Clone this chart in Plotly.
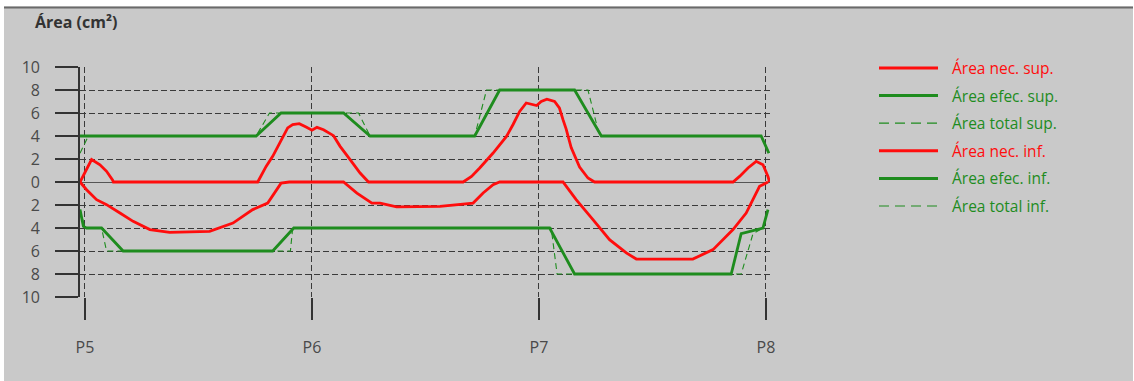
import plotly.graph_objects as go

# ---------------- data (x: P5=0, P6=1, P7=2, P8=3) ----------------
point_labels = ["P5", "P6", "P7", "P8"]
point_pos = [0, 1, 2, 3]

nec_sup_x = [-0.022, 0.0, 0.022, 0.029, 0.066, 0.095, 0.122, 0.125, 0.761, 0.798, 0.827, 0.849,
             0.871, 0.893, 0.915, 0.944, 0.974, 1.0, 1.022, 1.051, 1.095, 1.124, 1.168, 1.212,
             1.249, 1.666, 1.703, 1.739, 1.798, 1.857, 1.886, 1.915, 1.944, 1.974, 1.99, 2.01,
             2.035, 2.069, 2.09, 2.106, 2.12, 2.142, 2.179, 2.216, 2.245, 2.855, 2.884, 2.921,
             2.957, 2.987, 3.009, 3.016]
nec_sup_y = [0, 0.9, 1.8, 1.95, 1.5, 0.93, 0.15, 0, 0, 1.36, 2.23, 3.1,
             3.97, 4.7, 5.0, 5.07, 4.78, 4.5, 4.75, 4.55, 4.03, 3.1, 1.94, 0.78,
             0, 0, 0.49, 1.22, 2.52, 3.97, 5.0, 6.14, 6.87, 6.7, 6.65, 7.0,
             7.2, 7.0, 6.45, 5.42, 4.6, 3.0, 1.3, 0.35, 0, 0, 0.49, 1.22,
             1.8, 1.5, 0.49, 0]

efec_sup_x = [-0.022, 0.754, 0.864, 1.139, 1.256, 1.717, 1.827, 2.157, 2.275, 2.979, 3.013]
efec_sup_y = [4, 4, 6, 6, 4, 4, 8, 8, 4, 4, 2.5]

total_sup_x = [-0.022, 0.015, 0.754, 0.813, 1.205, 1.256, 1.717, 1.769, 2.216, 2.267, 2.979, 3.013]
total_sup_y = [2.5, 4, 4, 6, 6, 4, 4, 8, 8, 4, 4, 2.5]

nec_inf_x = [-0.022, 0.007, 0.051, 0.095, 0.154, 0.212, 0.286, 0.373, 0.549, 0.652, 0.739, 0.805,
             0.864, 0.9, 1.139, 1.198, 1.264, 1.3, 1.373, 1.564, 1.71, 1.754, 1.798, 1.827,
             2.106, 2.164, 2.238, 2.311, 2.385, 2.429, 2.678, 2.767, 2.855, 2.913, 2.957, 2.972,
             3.009]
nec_inf_y = [0, -0.67, -1.54, -1.97, -2.7, -3.42, -4.14, -4.38, -4.29, -3.57, -2.4, -1.83,
             -0.1, 0, 0, -0.96, -1.83, -1.83, -2.17, -2.12, -1.83, -0.96, -0.23, 0,
             0, -1.54, -3.28, -5.01, -6.17, -6.7, -6.7, -5.88, -4.14, -2.7, -0.96, -0.38,
             0]

efec_inf_x = [-0.022, -0.007, 0.007, 0.073, 0.168, 0.827, 0.92, 2.047, 2.157, 2.847, 2.891, 2.987, 3.009]
efec_inf_y = [-2.4, -3.86, -4, -4, -6, -6, -4, -4, -8, -8, -4.5, -4.0, -2.4]

total_inf_x = [-0.022, 0.0, 0.073, 0.095, 0.905, 0.915, 2.054, 2.08, 2.891, 2.943, 2.987, 3.009]
total_inf_y = [-2.4, -4, -4, -6, -6, -4, -4, -8, -8, -4.5, -4.0, -2.4]

y_ticks = [-10, -8, -6, -4, -2, 0, 2, 4, 6, 8, 10]
y_tick_text = [str(abs(v)) for v in y_ticks]

series_names = ["Área nec. sup.", "Área efec. sup.", "Área total sup.",
                "Área nec. inf.", "Área efec. inf.", "Área total inf."]

# ---------------- styling ----------------
RED = "#ff0d0d"
GREEN = "#1e8c1e"
BG = "#c9c9c9"
GRID = "#3a3a3a"
TXT = "#4a4a4a"
FONT = "Open Sans"

W, H = 1134, 381
L, R, T, B = 80, 770, 67, 297


def fx(p):
    return (p - L) / (R - L)


def fy(p):
    return (B - p) / (B - T)


fig = go.Figure()

styles = [
    (nec_sup_x, nec_sup_y, RED, 2.8, "solid"),
    (efec_sup_x, efec_sup_y, GREEN, 2.8, "solid"),
    (total_sup_x, total_sup_y, GREEN, 1.1, "6px,4px"),
    (nec_inf_x, nec_inf_y, RED, 2.8, "solid"),
    (efec_inf_x, efec_inf_y, GREEN, 2.8, "solid"),
    (total_inf_x, total_inf_y, GREEN, 1.1, "6px,4px"),
]
draw_order = [2, 5, 1, 4, 0, 3]
for i in draw_order:
    xs, ys, col, w, dash = styles[i]
    fig.add_trace(go.Scatter(x=xs, y=ys, mode="lines", name=series_names[i],
                             line=dict(color=col, width=w, dash=dash),
                             showlegend=False, cliponaxis=False))

shapes = []
# white outer frame strips + dark top border
shapes.append(dict(type="rect", xref="paper", yref="paper", x0=fx(0), x1=fx(W), y0=fy(0), y1=fy(6.5),
                   fillcolor="white", line=dict(width=0), layer="above"))
shapes.append(dict(type="rect", xref="paper", yref="paper", x0=fx(0), x1=fx(4), y0=fy(0), y1=fy(H),
                   fillcolor="white", line=dict(width=0), layer="above"))
shapes.append(dict(type="rect", xref="paper", yref="paper", x0=fx(1133), x1=fx(W), y0=fy(0), y1=fy(H),
                   fillcolor="white", line=dict(width=0), layer="above"))
shapes.append(dict(type="line", xref="paper", yref="paper", x0=fx(4), x1=fx(1133), y0=fy(7.5), y1=fy(7.5),
                   line=dict(color="#6a6a6a", width=2), layer="above"))

annotations = [dict(text="<b>Área (cm²)</b>", xref="paper", yref="paper", x=fx(33), y=fy(22),
                    xanchor="left", yanchor="middle", showarrow=False,
                    font=dict(family=FONT, size=16, color="#333333"))]

# manual legend
legend_colors = [RED, GREEN, GREEN, RED, GREEN, GREEN]
for k, name in enumerate(series_names):
    _, _, col, w, dash = styles[k]
    yy = 68 + 27.6 * k
    shapes.append(dict(type="line", xref="paper", yref="paper", x0=fx(879), x1=fx(938),
                       y0=fy(yy), y1=fy(yy),
                       line=dict(color=col, width=3 if dash == "solid" else 1.2,
                                 dash="solid" if dash == "solid" else "10px,6px")))
    annotations.append(dict(text=name, xref="paper", yref="paper", x=fx(950), y=fy(yy),
                            xanchor="left", yanchor="middle", showarrow=False,
                            font=dict(family=FONT, size=15.5, color=legend_colors[k])))

fig.update_layout(
    width=W, height=H,
    margin=dict(l=L, r=W - R, t=T, b=H - B, pad=0),
    paper_bgcolor=BG, plot_bgcolor=BG,
    shapes=shapes, annotations=annotations,
    showlegend=False,
    font=dict(family=FONT, color=TXT),
)
fig.update_xaxes(range=[-0.022, 3.018], tickvals=point_pos, ticktext=point_labels,
                 showgrid=True, gridcolor=GRID, gridwidth=1, griddash="6px,3px",
                 zeroline=False, showline=False,
                 ticks="outside", ticklen=22, tickwidth=1.6, tickcolor="#333333",
                 ticklabelstandoff=14,
                 tickfont=dict(family=FONT, size=16, color=TXT))
fig.update_yaxes(range=[-10, 10], tickvals=y_ticks, ticktext=y_tick_text,
                 showgrid=True, gridcolor=GRID, gridwidth=1, griddash="6px,3px",
                 zeroline=True, zerolinecolor="#555555", zerolinewidth=1,
                 showline=True, linecolor="#333333", linewidth=1.6,
                 ticks="outside", ticklen=23, tickwidth=1.6, tickcolor="#333333",
                 ticklabelstandoff=12,
                 tickfont=dict(family=FONT, size=16, color=TXT))

fig.write_html("out.html", config={"displayModeBar": False},
               post_script="document.body.style.margin='0';document.body.style.overflow='hidden';")
